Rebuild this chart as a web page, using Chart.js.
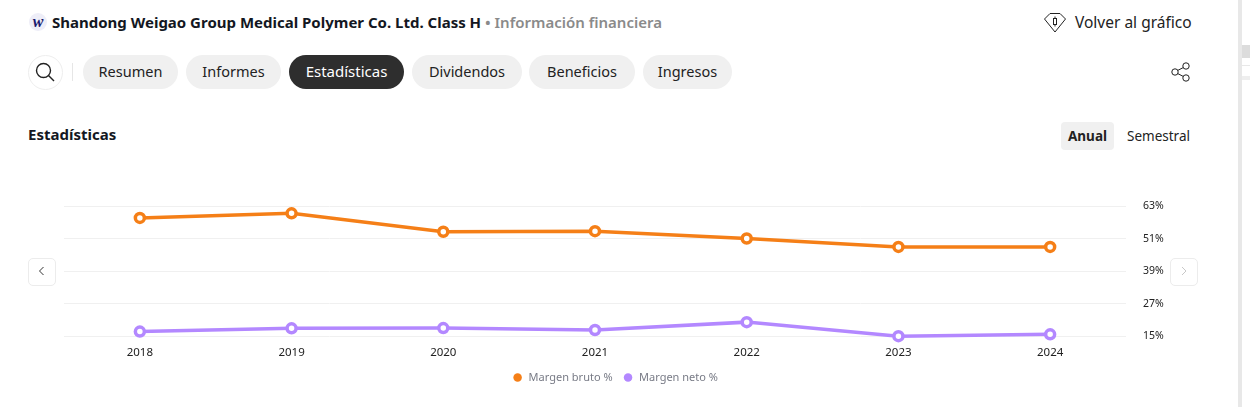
<!DOCTYPE html>
<html>
<head>
<meta charset="utf-8">
<script src="https://cdn.jsdelivr.net/npm/chart.js@4"></script>
<style>
  html, body { margin: 0; background: #fff; overflow: hidden; }
  body { width: 1250px; height: 407px; position: relative; font-family: "Noto Sans", sans-serif; color: #131722; }
  .abs { position: absolute; white-space: nowrap; }
  .pill { position: absolute; top: 55px; height: 34px; line-height: 33px; border-radius: 17px; background: #f0f0f0; text-align: center; font-size: 14.5px; color: #222; }
  .pill.on { background: #2e2e2e; color: #fff; font-size: 15px; }
  .navbtn { position: absolute; top: 258px; width: 26px; height: 26px; border: 1px solid #ececec; border-radius: 5px; background: #fff; }
  #wrap { position: absolute; left: 54px; top: 183px; width: 1118px; height: 219px; }
</style>
</head>
<body>
<svg class="abs" style="left:29px;top:13px" width="18" height="18"><circle cx="9" cy="9" r="9" fill="#eeeef8"/><text x="9" y="13.5" text-anchor="middle" font-family="Liberation Serif" font-weight="bold" font-style="italic" font-size="16" fill="#1a1a6e">w</text></svg>
<div class="abs" style="left:52px;top:12px;font-size:15px;font-weight:700;color:#131722">Shandong Weigao Group Medical Polymer Co. Ltd. Class H <span style="color:#8a8a8a;font-weight:600">• Información financiera</span></div>

<svg class="abs" style="left:1043px;top:12px" width="24" height="22" fill="none" stroke="#222" stroke-width="1"><path d="M1.5 7 L7 1.5 H17 L22.5 7 L12 20 Z"/><rect x="10.5" y="6.5" width="3" height="6"/><path d="M12 4.5V6.5M12 12.5V14.5"/></svg>
<div class="abs" style="left:1075px;top:11px;font-size:15.5px;color:#222">Volver al gráfico</div>

<div class="abs" style="left:28px;top:55px;width:33px;height:33px;border:1px solid #eee;border-radius:50%"></div>
<svg class="abs" style="left:33px;top:60px" width="24" height="24" fill="none" stroke="#222" stroke-width="1.4"><circle cx="10.5" cy="10.5" r="7"/><path d="M15.5 15.5 L21 21"/></svg>
<div class="abs" style="left:72px;top:63px;width:1px;height:18px;background:#e6e6e6"></div>

<div class="pill" style="left:83px;width:95px">Resumen</div>
<div class="pill" style="left:186px;width:95px">Informes</div>
<div class="pill on" style="left:289px;width:115px">Estadísticas</div>
<div class="pill" style="left:412px;width:110px">Dividendos</div>
<div class="pill" style="left:529px;width:106px">Beneficios</div>
<div class="pill" style="left:643px;width:89px">Ingresos</div>

<svg class="abs" style="left:1170px;top:61px" width="22" height="22" fill="none" stroke="#222" stroke-width="1"><circle cx="5" cy="11" r="3.2"/><circle cx="16" cy="5" r="3.2"/><circle cx="16" cy="17" r="3.2"/><path d="M7.8 9.4 L13.2 6.6M7.8 12.6 L13.2 15.4"/></svg>

<div class="abs" style="left:28px;top:124px;font-size:15px;font-weight:700;color:#131722">Estadísticas</div>
<div class="abs" style="left:1061px;top:122px;width:53px;height:28px;line-height:28px;background:#f0f0f0;border-radius:4px;text-align:center;font-size:13.5px;font-weight:700;color:#222">Anual</div>
<div class="abs" style="left:1127px;top:122px;line-height:28px;font-size:13.5px;color:#222">Semestral</div>

<div class="navbtn" style="left:28px"></div>
<svg class="abs" style="left:36px;top:265px" width="12" height="12" fill="none" stroke="#333" stroke-width="1"><path d="M7.5 2 L3.5 6 L7.5 10"/></svg>
<div class="navbtn" style="left:1170px"></div>
<svg class="abs" style="left:1178px;top:265px" width="12" height="12" fill="none" stroke="#c8c8c8" stroke-width="1"><path d="M4 2 L8 6 L4 10"/></svg>

<div class="abs" style="left:1238px;top:0;width:4px;height:407px;background:#e8e8e8"></div>
<div class="abs" style="left:1242px;top:45px;width:8px;height:13px;background:#dcdcdc"></div>
<div class="abs" style="left:1242px;top:65px;width:8px;height:1px;background:#e8e8e8"></div>
<div class="abs" style="left:1242px;top:76px;width:8px;height:4px;background:#eeeeee"></div>

<div id="wrap"><canvas id="chart"></canvas></div>

<script>
// values
const years = ['2018', '2019', '2020', '2021', '2022', '2023', '2024'];
const margenBruto = [58.7, 60.4, 53.6, 53.8, 51.1, 48.0, 48.0];
const margenNeto = [16.7, 17.9, 18.0, 17.3, 20.2, 15.0, 15.7];
const yTicks = [15, 27, 39, 51, 63];

const orange = '#f57f17';
const purple = '#b388ff';
const fontFamily = '"Noto Sans", sans-serif';

new Chart(document.getElementById('chart'), {
  type: 'line',
  data: {
    labels: years,
    datasets: [
      {
        label: 'Margen bruto %',
        data: margenBruto,
        borderColor: orange,
        backgroundColor: orange,
        pointBackgroundColor: '#fff',
        pointBorderColor: orange,
        clip: false,
      },
      {
        label: 'Margen neto %',
        data: margenNeto,
        borderColor: purple,
        backgroundColor: purple,
        pointBackgroundColor: '#fff',
        pointBorderColor: purple,
        clip: false,
      },
    ],
  },
  options: {
    animation: false,
    responsive: true,
    maintainAspectRatio: false,
    layout: { padding: { left: 10, top: 4, right: 6, bottom: 9 } },
    elements: {
      line: { borderWidth: 3.5, tension: 0 },
      point: { radius: 4.5, borderWidth: 3.5 },
    },
    plugins: {
      tooltip: { enabled: false },
      legend: {
        position: 'bottom',
        labels: {
          usePointStyle: true,
          pointStyle: 'circle',
          boxHeight: 6,
          padding: 10,
          color: '#787b86',
          font: { family: fontFamily, size: 11 },
          generateLabels: (chart) => chart.data.datasets.map((d, i) => ({
            text: d.label,
            fillStyle: d.borderColor,
            strokeStyle: d.borderColor,
            lineWidth: 0,
            pointStyle: 'circle',
            datasetIndex: i,
            fontColor: '#787b86',
          })),
        },
      },
    },
    scales: {
      x: {
        offset: true,
        grid: { display: false },
        border: { display: false },
        ticks: { color: '#222', font: { family: fontFamily, size: 11.5 }, padding: 2, maxRotation: 0 },
      },
      y: {
        position: 'right',
        min: 15,
        max: 63,
        afterBuildTicks: (axis) => { axis.ticks = yTicks.map((v) => ({ value: v })); },
        afterFit: (axis) => { axis.width = 40; },
        grid: { color: '#f0f0f0', drawTicks: false },
        border: { display: false },
        ticks: {
          color: '#222',
          font: { family: fontFamily, size: 10.5 },
          padding: 17,
          callback: (v) => v + '%',
        },
      },
    },
  },
});
</script>
</body>
</html>
